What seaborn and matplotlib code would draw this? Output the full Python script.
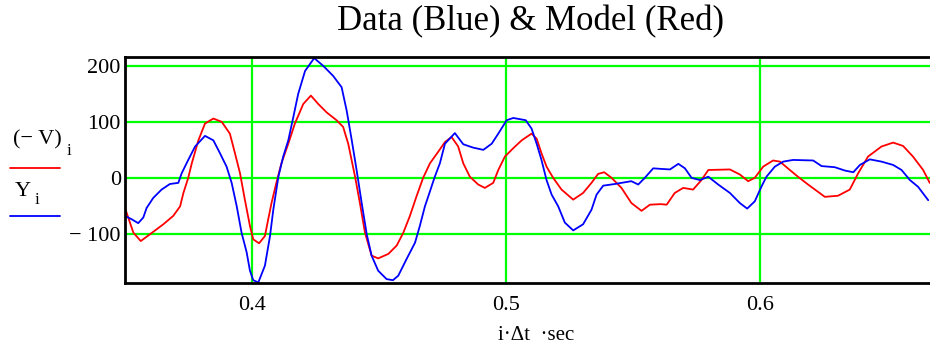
import matplotlib
matplotlib.use("Agg")
import matplotlib.pyplot as plt
import seaborn as sns
from matplotlib.lines import Line2D

# ---- data ----
x_red = [0.3500, 0.3533, 0.3562, 0.3598, 0.3651, 0.3690, 0.3717, 0.3730, 0.3749, 0.3763,
         0.3789, 0.3815, 0.3848, 0.3881, 0.3913, 0.3933, 0.3953, 0.3972, 0.3992, 0.4005,
         0.4028, 0.4051, 0.4064, 0.4077, 0.4096, 0.4116, 0.4143, 0.4169, 0.4202, 0.4232,
         0.4261, 0.4294, 0.4333, 0.4359, 0.4379, 0.4406, 0.4425, 0.4445, 0.4471, 0.4497,
         0.4537, 0.4570, 0.4596, 0.4622, 0.4648, 0.4674, 0.4701, 0.4734, 0.4760, 0.4786,
         0.4812, 0.4832, 0.4858, 0.4891, 0.4917, 0.4950, 0.4970, 0.4996, 0.5029, 0.5062,
         0.5101, 0.5121, 0.5140, 0.5160, 0.5186, 0.5219, 0.5265, 0.5304, 0.5337, 0.5363,
         0.5387, 0.5416, 0.5455, 0.5494, 0.5534, 0.5567, 0.5610, 0.5633, 0.5665, 0.5698,
         0.5737, 0.5770, 0.5797, 0.5882, 0.5921, 0.5954, 0.5980, 0.6013, 0.6052, 0.6079,
         0.6118, 0.6150, 0.6190, 0.6256, 0.6308, 0.6354, 0.6387, 0.6426, 0.6479, 0.6525,
         0.6564, 0.6603, 0.6643, 0.6669]
y_red = [-54, -98, -113, -101, -83, -68, -51, -27, 0, 26,
         67, 97, 106, 100, 79, 44, 8, -39, -86, -110,
         -117, -104, -74, -45, -9, 26, 61, 97, 132, 147,
         132, 117, 103, 91, 61, 2, -45, -98, -139, -144,
         -136, -121, -98, -68, -33, 0, 26, 47, 64, 73,
         56, 26, 2, -12, -18, -9, 14, 38, 53, 67,
         79, 70, 44, 20, 0, -21, -39, -27, -9, 7,
         10, 0, -18, -45, -59, -48, -47, -48, -27, -18,
         -21, -4, 14, 15, 6, -6, 0, 20, 31, 29,
         14, 2, -12, -34, -32, -21, 8, 38, 56, 63,
         57, 38, 14, -9]

x_blue = [0.3500, 0.3526, 0.3552, 0.3572, 0.3585, 0.3611, 0.3644, 0.3677, 0.3710, 0.3723,
          0.3749, 0.3776, 0.3815, 0.3848, 0.3874, 0.3900, 0.3920, 0.3940, 0.3959, 0.3979,
          0.3992, 0.4005, 0.4025, 0.4051, 0.4071, 0.4084, 0.4104, 0.4123, 0.4143, 0.4163,
          0.4182, 0.4209, 0.4245, 0.4281, 0.4320, 0.4353, 0.4373, 0.4393, 0.4412, 0.4432,
          0.4452, 0.4471, 0.4497, 0.4530, 0.4555, 0.4576, 0.4609, 0.4642, 0.4661, 0.4681,
          0.4701, 0.4720, 0.4740, 0.4760, 0.4799, 0.4832, 0.4871, 0.4911, 0.4944, 0.4970,
          0.5003, 0.5029, 0.5078, 0.5101, 0.5121, 0.5140, 0.5160, 0.5180, 0.5206, 0.5232,
          0.5265, 0.5304, 0.5337, 0.5357, 0.5383, 0.5429, 0.5494, 0.5521, 0.5547, 0.5580,
          0.5610, 0.5646, 0.5679, 0.5705, 0.5731, 0.5764, 0.5797, 0.5836, 0.5882, 0.5921,
          0.5950, 0.5980, 0.6007, 0.6026, 0.6059, 0.6092, 0.6131, 0.6210, 0.6243, 0.6295,
          0.6335, 0.6368, 0.6394, 0.6433, 0.6479, 0.6525, 0.6558, 0.6591, 0.6623, 0.6663]
y_blue = [-68, -74, -81, -71, -54, -36, -21, -11, -9, 8,
          32, 56, 75, 67, 44, 20, -9, -51, -98, -133,
          -166, -183, -187, -157, -104, -57, 2, 38, 67, 109,
          150, 191, 214, 200, 182, 162, 120, 67, 14, -45,
          -101, -139, -166, -181, -183, -175, -145, -116, -86, -51,
          -24, 2, 26, 61, 80, 60, 54, 50, 61, 79,
          103, 107, 103, 88, 61, 32, -4, -30, -51, -80,
          -94, -83, -57, -30, -14, -11, -6, -12, 0, 17,
          16, 15, 25, 17, 0, -4, 2, -12, -27, -45,
          -55, -42, -15, 2, 20, 29, 32, 31, 21, 19,
          13, 10, 23, 33, 29, 23, 14, -4, -16, -40]

x_ticks = [0.4, 0.5, 0.6]
x_ticklabels = ["0.4", "0.5", "0.6"]
y_ticks = [-100, 0, 100, 200]
y_ticklabels = ["\u2212 100", "0", "100", "200"]

title = "Data (Blue) & Model (Red)"
xlabel = "i\u00b7\u0394t  \u00b7sec"

# ---- style ----
sns.set_style("white")
plt.rcParams['font.family'] = ['Liberation Serif', 'DejaVu Serif']
plt.rcParams['text.color'] = 'black'
plt.rcParams['xtick.color'] = 'black'
plt.rcParams['ytick.color'] = 'black'

W, H = 930, 346
fig = plt.figure(figsize=(W / 100, H / 100), dpi=100)
ax = fig.add_axes([125 / W, 63 / H, (W - 125) / W, 226 / H])

sns.lineplot(x=x_red, y=y_red, ax=ax, color="#ff0000", lw=1.3,
             estimator=None, sort=False)
sns.lineplot(x=x_blue, y=y_blue, ax=ax, color="#0000ff", lw=1.3,
             estimator=None, sort=False)

ax.set_xlim(0.35, 0.667)
ax.set_ylim(-188, 216)
ax.set_xticks(x_ticks)
ax.set_xticklabels(x_ticklabels, fontsize=16, color="black")
ax.set_yticks(y_ticks)
ax.set_yticklabels(y_ticklabels, fontsize=16, color="black")
ax.tick_params(length=0, axis='x', pad=9)
ax.tick_params(length=0, axis='y', pad=3)
ax.grid(True, color="#00ff00", lw=1.6)
ax.set_axisbelow(True)
for s in ["left", "bottom", "top"]:
    ax.spines[s].set_visible(True)
    ax.spines[s].set_color("black")
    ax.spines[s].set_linewidth(2)
ax.spines["right"].set_visible(False)
ax.set_xlabel("")
ax.set_ylabel("")

fig.text(530 / W, 1 - 22 / H, title, fontsize=25, ha="center", va="center", color="black")
fig.text(536 / W, 1 - 336 / H, xlabel, fontsize=15, ha="center", va="center", color="black")

# legend-like labels on the left
fig.text(13 / W, 1 - 140 / H, "(\u2212 V)", fontsize=16, ha="left", va="center", color="black")
fig.text(67 / W, 1 - 151 / H, "i", fontsize=12, ha="left", va="center", color="black")
fig.add_artist(Line2D([10 / W, 60 / W], [1 - 168 / H, 1 - 168 / H], color="#ff0000",
                      lw=1.3, transform=fig.transFigure))
fig.text(15 / W, 1 - 191 / H, "Y", fontsize=16, ha="left", va="center", color="black")
fig.text(35 / W, 1 - 200 / H, "i", fontsize=12, ha="left", va="center", color="black")
fig.add_artist(Line2D([10 / W, 60 / W], [1 - 216 / H, 1 - 216 / H], color="#0000ff",
                      lw=1.3, transform=fig.transFigure))

fig.savefig("out.png", dpi=100)
